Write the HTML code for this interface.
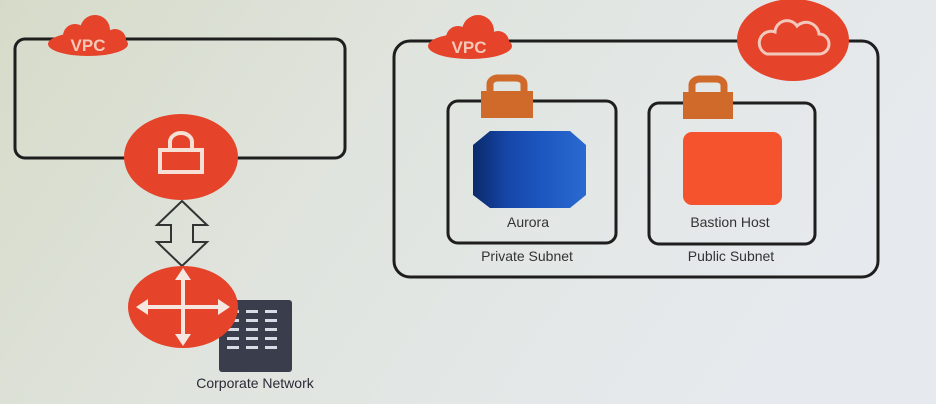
<!DOCTYPE html>
<html><head><meta charset="utf-8"><style>
html,body{margin:0;padding:0;width:936px;height:404px;overflow:hidden}
svg{display:block}
text{font-family:"Liberation Sans",sans-serif}
</style></head><body>
<svg width="936" height="404" viewBox="0 0 936 404" xmlns="http://www.w3.org/2000/svg">
<defs>
<linearGradient id="bg" x1="0" y1="0" x2="1" y2="0.3">
<stop offset="0" stop-color="#d6dbc9"/><stop offset="0.45" stop-color="#e0e4de"/><stop offset="1" stop-color="#e6eaee"/>
</linearGradient>
<linearGradient id="au" x1="0" y1="0" x2="1" y2="0">
<stop offset="0" stop-color="#0a2a6a"/><stop offset="0.3" stop-color="#1646a8"/><stop offset="0.6" stop-color="#1c56c0"/><stop offset="1" stop-color="#2a6ad0"/>
</linearGradient>
</defs>
<rect width="936" height="404" fill="url(#bg)"/>
<!-- Left VPC -->
<rect x="15" y="39" width="330" height="119" rx="10" fill="none" stroke="#1e1e1e" stroke-width="3"/>
<g fill="#e5432a">
<ellipse cx="88" cy="44" rx="40" ry="12"/><circle cx="75" cy="36" r="12"/><circle cx="95" cy="30" r="15"/><circle cx="115" cy="40" r="11"/>
</g>
<text x="88" y="51" font-size="17" font-weight="bold" fill="#f4c8b8" text-anchor="middle">VPC</text>
<!-- VPN gateway -->
<ellipse cx="181" cy="157" rx="57" ry="43" fill="#e5432a"/>
<rect x="160" y="150" width="42" height="22" fill="none" stroke="#f6e0d6" stroke-width="4"/>
<path d="M170 150 v-8 a11 9 0 0 1 22 0 v8" fill="none" stroke="#f6e0d6" stroke-width="4"/>
<!-- double arrow -->
<path d="M182 201 L207 225 L193 225 L193 242 L207 242 L182 266 L157 242 L171 242 L171 225 L157 225 Z" fill="none" stroke="#333" stroke-width="2"/>
<!-- building -->
<rect x="219" y="300" width="73" height="72" rx="3" fill="#3a3e4c"/>
<g fill="#d8dce4">
<rect x="227" y="310" width="12" height="3"/><rect x="246" y="310" width="12" height="3"/><rect x="265" y="310" width="12" height="3"/>
<rect x="227" y="319" width="12" height="3"/><rect x="246" y="319" width="12" height="3"/><rect x="265" y="319" width="12" height="3"/>
<rect x="227" y="328" width="12" height="3"/><rect x="246" y="328" width="12" height="3"/><rect x="265" y="328" width="12" height="3"/>
<rect x="227" y="337" width="12" height="3"/><rect x="246" y="337" width="12" height="3"/><rect x="265" y="337" width="12" height="3"/>
<rect x="227" y="346" width="12" height="3"/><rect x="246" y="346" width="12" height="3"/><rect x="265" y="346" width="12" height="3"/>
</g>
<!-- router -->
<ellipse cx="183" cy="307" rx="55" ry="41" fill="#e5432a"/>
<g stroke="#f5e6e0" stroke-width="4" fill="#f5e6e0">
<line x1="140" y1="307" x2="226" y2="307"/><line x1="183" y1="272" x2="183" y2="342"/>
</g>
<g fill="#f5e6e0">
<path d="M136 307 l12 -8 v16z"/><path d="M230 307 l-12 -8 v16z"/>
<path d="M183 268 l-8 12 h16z"/><path d="M183 346 l-8 -12 h16z"/>
</g>
<text x="255" y="388" font-size="14" fill="#2a2a36" text-anchor="middle">Corporate Network</text>
<!-- Right VPC -->
<rect x="394" y="41" width="484" height="236" rx="16" fill="none" stroke="#1e1e1e" stroke-width="3"/>
<g fill="#e5432a">
<ellipse cx="470" cy="46" rx="42" ry="13"/><circle cx="458" cy="38" r="12"/><circle cx="478" cy="31" r="16"/><circle cx="498" cy="42" r="11"/>
</g>
<text x="469" y="53" font-size="17" font-weight="bold" fill="#f4c8b8" text-anchor="middle">VPC</text>
<!-- cloud circle -->
<ellipse cx="793" cy="40" rx="56" ry="41" fill="#e5432a"/>
<path d="M767 54 h52 a10 10 0 0 0 0 -20 a13 13 0 0 0 -22 -8 a12 12 0 0 0 -22 6 a11 11 0 0 0 -8 22 z" fill="none" stroke="#f3c8bc" stroke-width="3"/>
<!-- private subnet -->
<rect x="448" y="101" width="168" height="142" rx="10" fill="none" stroke="#1e1e1e" stroke-width="3"/>
<rect x="481" y="91" width="52" height="27" fill="#cf6a2a"/>
<path d="M490 92 v-8 a8 6 0 0 1 8 -6 h18 a8 6 0 0 1 8 6 v8" fill="none" stroke="#cf6a2a" stroke-width="7"/>
<path d="M473 145 L490 131 L570 131 L586 145 L586 195 L570 208 L490 208 L473 195 Z" fill="url(#au)"/>
<text x="528" y="227" font-size="14" fill="#333" text-anchor="middle">Aurora</text>
<text x="527" y="261" font-size="14" fill="#333" text-anchor="middle">Private Subnet</text>
<!-- public subnet -->
<rect x="649" y="103" width="166" height="141" rx="10" fill="none" stroke="#1e1e1e" stroke-width="3"/>
<rect x="683" y="92" width="50" height="27" fill="#cf6a2a"/>
<path d="M692 93 v-8 a8 6 0 0 1 8 -6 h16 a8 6 0 0 1 8 6 v8" fill="none" stroke="#cf6a2a" stroke-width="7"/>
<rect x="683" y="132" width="99" height="73" rx="9" fill="#f4532e"/>
<text x="730" y="227" font-size="14" fill="#333" text-anchor="middle">Bastion Host</text>
<text x="731" y="261" font-size="14" fill="#333" text-anchor="middle">Public Subnet</text>
</svg>
</body></html>
